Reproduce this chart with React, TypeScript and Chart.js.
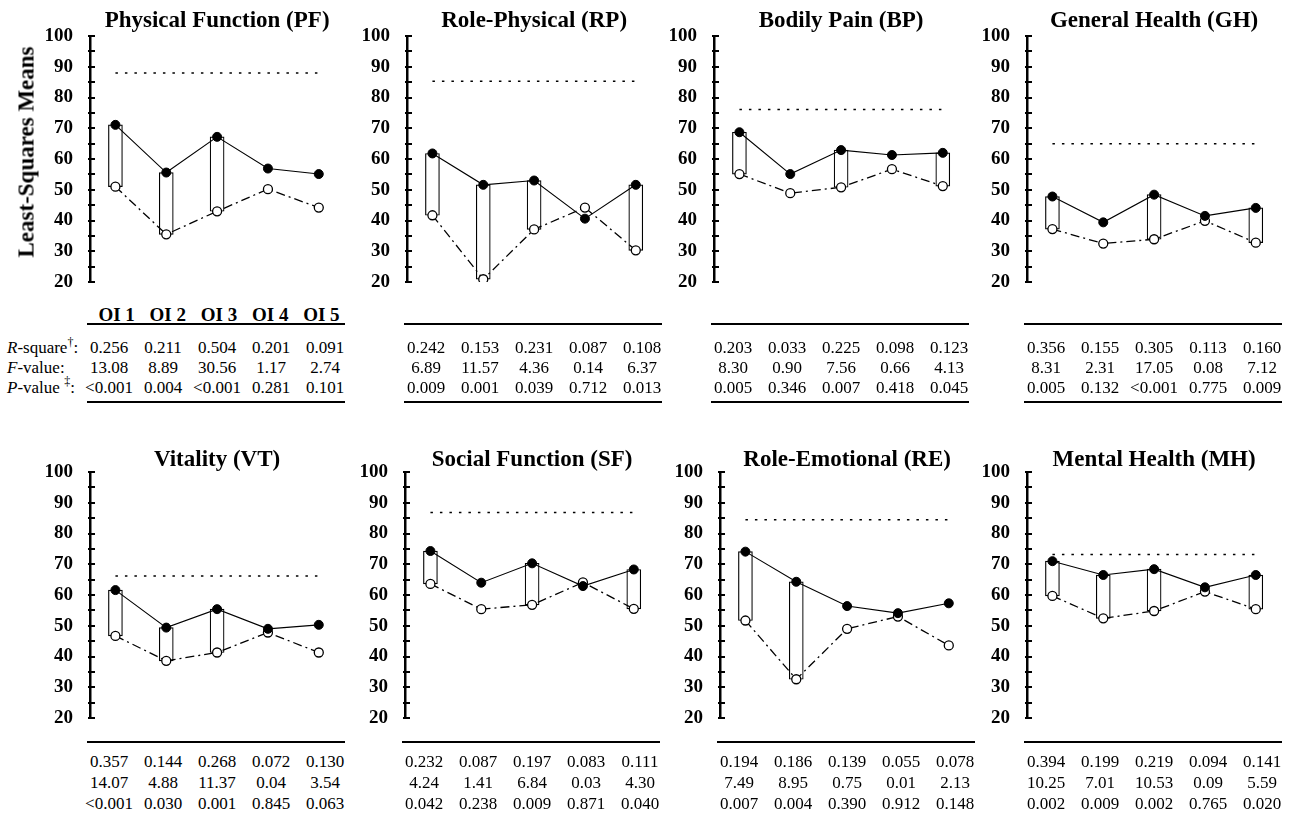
import React, { useEffect, useRef } from 'react';
import { Chart, registerables } from 'chart.js';

Chart.register(...registerables);

// ---------- data ----------
const categories = ['OI 1', 'OI 2', 'OI 3', 'OI 4', 'OI 5'];
const yMin = 20;
const yMax = 100;
const yStep = 5;
const yLabelStep = 10;
const rowLabels = ['R-square', 'F-value', 'P-value'];

const pfTitle = 'Physical Function (PF)';
const pfFilled = [71.1, 55.6, 67.2, 56.9, 55.1];
const pfOpen = [51.0, 35.5, 43.0, 50.2, 44.2];
const pfNorm = 88;
const pfRsq = ['0.256', '0.211', '0.504', '0.201', '0.091'];
const pfF = ['13.08', '8.89', '30.56', '1.17', '2.74'];
const pfP = ['<0.001', '0.004', '<0.001', '0.281', '0.101'];

const rpTitle = 'Role-Physical (RP)';
const rpFilled = [61.8, 51.6, 53.0, 40.6, 51.6];
const rpOpen = [41.7, 20.9, 37.1, 44.2, 30.3];
const rpNorm = 85.3;
const rpRsq = ['0.242', '0.153', '0.231', '0.087', '0.108'];
const rpF = ['6.89', '11.57', '4.36', '0.14', '6.37'];
const rpP = ['0.009', '0.001', '0.039', '0.712', '0.013'];

const bpTitle = 'Bodily Pain (BP)';
const bpFilled = [68.7, 55.1, 62.9, 61.3, 62.0];
const bpOpen = [55.1, 48.9, 50.8, 56.7, 51.2];
const bpNorm = 76.1;
const bpRsq = ['0.203', '0.033', '0.225', '0.098', '0.123'];
const bpF = ['8.30', '0.90', '7.56', '0.66', '4.13'];
const bpP = ['0.005', '0.346', '0.007', '0.418', '0.045'];

const ghTitle = 'General Health (GH)';
const ghFilled = [47.8, 39.4, 48.4, 41.5, 44.1];
const ghOpen = [37.2, 32.5, 33.9, 39.9, 32.8];
const ghNorm = 65.0;
const ghRsq = ['0.356', '0.155', '0.305', '0.113', '0.160'];
const ghF = ['8.31', '2.31', '17.05', '0.08', '7.12'];
const ghP = ['0.005', '0.132', '<0.001', '0.775', '0.009'];

const vtTitle = 'Vitality (VT)';
const vtFilled = [61.6, 49.4, 55.4, 49.0, 50.3];
const vtOpen = [46.7, 38.6, 41.3, 47.8, 41.3];
const vtNorm = 66.2;
const vtRsq = ['0.357', '0.144', '0.268', '0.072', '0.130'];
const vtF = ['14.07', '4.88', '11.37', '0.04', '3.54'];
const vtP = ['<0.001', '0.030', '0.001', '0.845', '0.063'];

const sfTitle = 'Social Function (SF)';
const sfFilled = [74.3, 64.0, 70.3, 62.9, 68.3];
const sfOpen = [63.6, 55.4, 56.8, 64.1, 55.5];
const sfNorm = 86.8;
const sfRsq = ['0.232', '0.087', '0.197', '0.083', '0.111'];
const sfF = ['4.24', '1.41', '6.84', '0.03', '4.30'];
const sfP = ['0.042', '0.238', '0.009', '0.871', '0.040'];

const reTitle = 'Role-Emotional (RE)';
const reFilled = [74.1, 64.3, 56.4, 54.1, 57.3];
const reOpen = [51.7, 32.6, 49.0, 53.0, 43.6];
const reNorm = 84.5;
const reRsq = ['0.194', '0.186', '0.139', '0.055', '0.078'];
const reF = ['7.49', '8.95', '0.75', '0.01', '2.13'];
const reP = ['0.007', '0.004', '0.390', '0.912', '0.148'];

const mhTitle = 'Mental Health (MH)';
const mhFilled = [71.0, 66.5, 68.4, 62.5, 66.5];
const mhOpen = [59.7, 52.4, 54.8, 61.1, 55.4];
const mhNorm = 73.2;
const mhRsq = ['0.394', '0.199', '0.219', '0.094', '0.141'];
const mhF = ['10.25', '7.01', '10.53', '0.09', '5.59'];
const mhP = ['0.002', '0.009', '0.002', '0.765', '0.020'];

type PanelData = {
  title: string;
  filled: number[];
  open: number[];
  norm: number;
  rsq: string[];
  f: string[];
  p: string[];
};

const topPanels: PanelData[] = [
  { title: pfTitle, filled: pfFilled, open: pfOpen, norm: pfNorm, rsq: pfRsq, f: pfF, p: pfP },
  { title: rpTitle, filled: rpFilled, open: rpOpen, norm: rpNorm, rsq: rpRsq, f: rpF, p: rpP },
  { title: bpTitle, filled: bpFilled, open: bpOpen, norm: bpNorm, rsq: bpRsq, f: bpF, p: bpP },
  { title: ghTitle, filled: ghFilled, open: ghOpen, norm: ghNorm, rsq: ghRsq, f: ghF, p: ghP },
];
const bottomPanels: PanelData[] = [
  { title: vtTitle, filled: vtFilled, open: vtOpen, norm: vtNorm, rsq: vtRsq, f: vtF, p: vtP },
  { title: sfTitle, filled: sfFilled, open: sfOpen, norm: sfNorm, rsq: sfRsq, f: sfF, p: sfP },
  { title: reTitle, filled: reFilled, open: reOpen, norm: reNorm, rsq: reRsq, f: reF, p: reP },
  { title: mhTitle, filled: mhFilled, open: mhOpen, norm: mhNorm, rsq: mhRsq, f: mhF, p: mhP },
];

// ---------- layout ----------
const FONT = '"Liberation Serif", "Times New Roman", Times, serif';
const CW = 256; // chart area width
const YW = 62; // y axis width
const PR = 4; // right padding
const CANVAS_W = YW + CW + PR;

const topLefts = [90, 407, 714, 1027];
const bottomLefts = [90, 405, 720, 1027];

function isSig(p: string) {
  const s = p.trim();
  return s.startsWith('<') || parseFloat(s) < 0.05;
}

// inward tick marks on the y axis, drawn from the scale's own tick positions
const inwardTicks = {
  id: 'inwardTicks',
  afterDraw(chart: any) {
    const y = chart.scales.y;
    if (!y) return;
    const ctx = chart.ctx;
    const x0 = chart.chartArea.left;
    ctx.save();
    ctx.strokeStyle = '#000';
    ctx.lineWidth = 2;
    ctx.beginPath();
    y.ticks.forEach((t: any) => {
      const py = Math.round(y.getPixelForValue(t.value));
      ctx.moveTo(x0 - 2, py);
      ctx.lineTo(x0 + 5, py);
    });
    ctx.stroke();
    ctx.restore();
  },
};

type PanelProps = {
  d: PanelData;
  left: number;
  top: number;
  height: number;
  padTop: number;
  padBottom: number;
  bottomPad: number;
};

function ChartPanel({ d, left, top, height, padTop, padBottom, bottomPad }: PanelProps) {
  const ref = useRef<HTMLCanvasElement>(null);
  useEffect(() => {
    const canvas = ref.current;
    if (!canvas) return;
    const boxes = d.filled.map((v, i) => (isSig(d.p[i]) ? [d.open[i], v] : null));
    const chart = new Chart(canvas, {
      type: 'bar',
      data: {
        labels: categories,
        datasets: [
          {
            type: 'bar',
            data: boxes as any,
            backgroundColor: '#ffffff',
            borderColor: '#000000',
            borderWidth: 1.2,
            borderSkipped: false,
            barThickness: 14,
            order: 3,
          },
          {
            type: 'line',
            data: [
              { x: categories[0], y: d.norm },
              { x: categories[categories.length - 1], y: d.norm },
            ] as any,
            borderColor: '#000000',
            borderWidth: 1.5,
            borderDash: [2.5, 7],
            pointRadius: 0,
            order: 2,
          },
          {
            type: 'line',
            data: d.open,
            borderColor: '#000000',
            borderWidth: 1.3,
            borderDash: [9, 4, 2, 4],
            pointRadius: 4.5,
            pointBackgroundColor: '#ffffff',
            pointBorderColor: '#000000',
            pointBorderWidth: 1.3,
            tension: 0,
            order: 1,
          },
          {
            type: 'line',
            data: d.filled,
            borderColor: '#000000',
            borderWidth: 1.1,
            pointRadius: 4.5,
            pointBackgroundColor: '#000000',
            pointBorderColor: '#000000',
            pointBorderWidth: 1,
            tension: 0,
            order: 0,
          },
        ],
      },
      options: {
        responsive: false,
        animation: false,
        devicePixelRatio: 1,
        events: [],
        layout: { padding: { left: 0, right: PR, top: 0, bottom: bottomPad } },
        plugins: {
          legend: { display: false },
          tooltip: { enabled: false },
          title: {
            display: true,
            text: d.title,
            fullSize: false,
            color: '#000000',
            font: { family: FONT, size: 23, weight: 'bold', lineHeight: 1 },
            padding: { top: padTop, bottom: padBottom },
          },
        },
        scales: {
          x: { type: 'category', display: false, offset: true },
          y: {
            min: yMin,
            max: yMax,
            afterFit: (s: any) => {
              s.width = YW;
              s.paddingTop = 12;
              s.paddingBottom = 12;
            },
            ticks: {
              stepSize: yStep,
              autoSkip: false,
              padding: 17,
              color: '#000000',
              font: { family: FONT, size: 19, weight: 'bold' },
              callback: (v: any) => (Number(v) % yLabelStep === 0 ? String(v) : ''),
            },
            grid: {
              display: false,
              drawOnChartArea: false,
              drawTicks: false,
            },
            border: { display: true, color: '#000000', width: 2.5 },
          },
        },
      } as any,
      plugins: [inwardTicks],
    });
    return () => chart.destroy();
  }, [d, height, padTop, padBottom, bottomPad]);
  return (
    <canvas
      ref={ref}
      width={CANVAS_W}
      height={height}
      style={{ position: 'absolute', left: left - YW, top, width: CANVAS_W, height }}
    />
  );
}

type TProps = {
  x: number;
  baseline: number;
  size: number;
  bold?: boolean;
  center?: boolean;
  children: React.ReactNode;
};

function T({ x, baseline, size, bold, center, children }: TProps) {
  return (
    <div
      style={{
        position: 'absolute',
        left: x,
        top: baseline - 0.8375 * size,
        fontFamily: FONT,
        fontSize: size,
        lineHeight: `${size}px`,
        fontWeight: bold ? 'bold' : 'normal',
        whiteSpace: 'nowrap',
        color: '#000',
        transform: center ? 'translateX(-50%)' : undefined,
      }}
    >
      {children}
    </div>
  );
}

function HLine({ x, y, w }: { x: number; y: number; w: number }) {
  return <div style={{ position: 'absolute', left: x, top: y, width: w, height: 2, background: '#000' }} />;
}

function Table({ d, left, lineY, baselines, bottomLineY }: { d: PanelData; left: number; lineY: number; baselines: number[]; bottomLineY?: number }) {
  const rows = [d.rsq, d.f, d.p];
  return (
    <>
      <HLine x={left - 3} y={lineY} w={258} />
      {rows.map((row, r) =>
        row.map((v, k) => (
          <T key={`${r}-${k}`} x={left + 19 + k * 54} baseline={baselines[r]} size={17} center>
            {v}
          </T>
        ))
      )}
      {bottomLineY !== undefined && <HLine x={left - 3} y={bottomLineY} w={258} />}
    </>
  );
}

export default function App() {
  useEffect(() => {
    document.body.style.margin = '0';
    document.body.style.background = '#fff';
  }, []);
  const topBaselines = [353, 373, 393];
  const bottomBaselines = [767, 788, 809];
  return (
    <div style={{ position: 'absolute', left: 0, top: 0, width: 1294, height: 818, background: '#fff', overflow: 'hidden' }}>
      {topPanels.map((d, i) => (
        <ChartPanel key={d.title} d={d} left={topLefts[i]} top={1} height={300} padTop={8.5} padBottom={3.5} bottomPad={19} />
      ))}
      {bottomPanels.map((d, i) => (
        <ChartPanel key={d.title} d={d} left={bottomLefts[i]} top={440} height={300} padTop={9} padBottom={0} bottomPad={22} />
      ))}

      {/* y axis title */}
      <div
        style={{
          position: 'absolute',
          left: 26,
          top: 152,
          transform: 'translate(-50%, -50%) rotate(-90deg)',
          fontFamily: FONT,
          fontSize: 23,
          fontWeight: 'bold',
          whiteSpace: 'nowrap',
          lineHeight: '23px',
        }}
      >
        Least-Squares Means
      </div>

      {/* category labels under the first panel */}
      {categories.map((c, k) => (
        <T key={c} x={topLefts[0] + (k + 0.5) * (CW / categories.length) + 1} baseline={321} size={19} bold center>
          {c}
        </T>
      ))}

      {/* row labels */}
      <T x={7} baseline={topBaselines[0]} size={17}>
        <i>{rowLabels[0].charAt(0)}</i>
        {rowLabels[0].slice(1)}
        <span style={{ fontSize: 12, position: 'relative', top: -7 }}>†</span>:
      </T>
      <T x={7} baseline={topBaselines[1]} size={17}>
        <i>{rowLabels[1].charAt(0)}</i>
        {rowLabels[1].slice(1)}:
      </T>
      <T x={7} baseline={topBaselines[2]} size={17}>
        <i>{rowLabels[2].charAt(0)}</i>
        {rowLabels[2].slice(1)}{' '}
        <span style={{ fontSize: 12, position: 'relative', top: -8 }}>‡</span>:
      </T>

      {topPanels.map((d, i) => (
        <Table key={d.title} d={d} left={topLefts[i]} lineY={323} baselines={topBaselines} bottomLineY={401} />
      ))}
      {bottomPanels.map((d, i) => (
        <Table key={d.title} d={d} left={bottomLefts[i]} lineY={741} baselines={bottomBaselines} />
      ))}
    </div>
  );
}
